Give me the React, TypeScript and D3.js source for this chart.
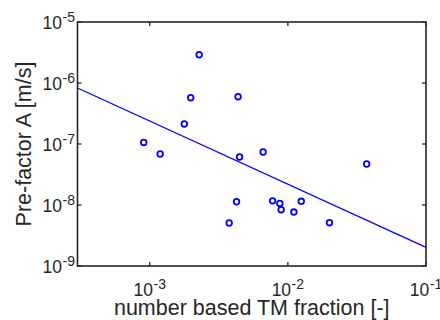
import React from "react";
import * as d3 from "d3";

const tmFraction = [9.05e-4, 1.19e-3, 1.78e-3, 1.98e-3, 2.28e-3, 4.36e-3, 4.47e-3, 6.62e-3, 3.72e-2, 4.25e-3, 7.75e-3, 8.75e-3, 8.94e-3, 1.105e-2, 1.25e-2, 3.76e-3, 2.0e-2];
const preFactor = [1.06e-7, 6.86e-8, 2.13e-7, 5.74e-7, 2.91e-6, 5.96e-7, 6.12e-8, 7.39e-8, 4.7e-8, 1.13e-8, 1.17e-8, 1.06e-8, 8.38e-9, 7.67e-9, 1.15e-8, 5.07e-9, 5.13e-9];
const fitX = [3e-4, 1e-1];
const fitY = [8.28e-7, 2.02e-9];
const xTickExp = [-3, -2, -1];
const yTickExp = [-9, -8, -7, -6, -5];
const xLabel = "number based TM fraction [-]";
const yLabel = "Pre-factor A [m/s]";

const W = 440, H = 320;
const L = 77.5, R = 426, T = 22, B = 266;
const BLUE = "#0000ff";
const AX = "#262626";
const FONT = "'Liberation Sans', Arial, Helvetica, sans-serif";

export default function App() {
  const x = d3.scaleLog().domain([3e-4, 1e-1]).range([L, R]);
  const y = d3.scaleLog().domain([1e-9, 1e-5]).range([B, T]);
  const line = d3.line<number>().x((_, i) => x(fitX[i])).y((d) => y(d));
  const tl = 4;
  return (
    <div style={{ position: "fixed", left: 0, top: 0 }}>
      <svg width={W} height={H} style={{ display: "block", background: "#fff" }} fontFamily={FONT}>
        <path d={line(fitY) || ""} fill="none" stroke={BLUE} strokeWidth={1.3} />
        {tmFraction.map((v, i) => (
          <circle key={i} cx={x(v)} cy={y(preFactor[i])} r={2.8} fill="none" stroke={BLUE} strokeWidth={1.8} />
        ))}
        <rect x={L} y={T} width={R - L} height={B - T} fill="none" stroke={AX} strokeWidth={1.6} />
        {xTickExp.map((e) => {
          const px = x(Math.pow(10, e));
          return (
            <g key={e}>
              <line x1={px} x2={px} y1={B} y2={B - tl} stroke={AX} strokeWidth={1.3} />
              <line x1={px} x2={px} y1={T} y2={T + tl} stroke={AX} strokeWidth={1.3} />
              <text x={px} y={296} textAnchor="middle" fontSize={17.5} fill={AX}>
                10<tspan dx={0.5} dy={-7.5} fontSize={14}>{String(e)}</tspan>
              </text>
            </g>
          );
        })}
        {yTickExp.map((e) => {
          const py = y(Math.pow(10, e));
          return (
            <g key={e}>
              <line x1={L} x2={L + tl} y1={py} y2={py} stroke={AX} strokeWidth={1.3} />
              <line x1={R} x2={R - tl} y1={py} y2={py} stroke={AX} strokeWidth={1.3} />
              <text x={75} y={py + 7} textAnchor="end" fontSize={17.5} fill={AX}>
                10<tspan dx={0.5} dy={-7.5} fontSize={14}>{String(e)}</tspan>
              </text>
            </g>
          );
        })}
        <text x={(L + R) / 2} y={315} textAnchor="middle" fontSize={21.5} fill={AX}>{xLabel}</text>
        <text transform={`translate(30.5,${(T + B) / 2}) rotate(-90)`} textAnchor="middle" fontSize={21.5} fill={AX}>{yLabel}</text>
      </svg>
    </div>
  );
}
